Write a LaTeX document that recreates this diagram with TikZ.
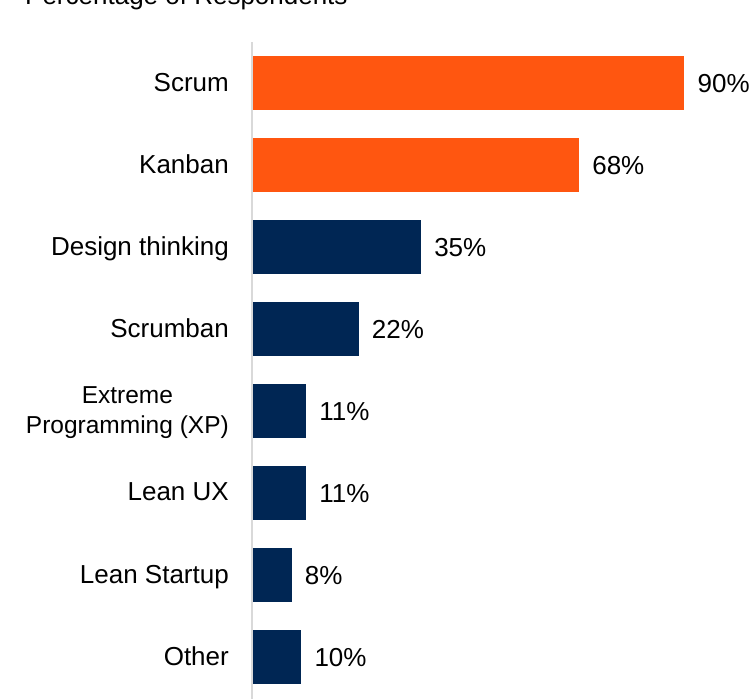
\documentclass[tikz,border=0pt]{standalone}
\usepackage{fontspec}
\setmainfont{Liberation Sans}
\usepackage{xcolor}
\usetikzlibrary{positioning}

\definecolor{barorange}{HTML}{FF5610}
\definecolor{barnavy}{HTML}{002654}
\definecolor{axisgray}{HTML}{D9D9D9}

\begin{document}
\begin{tikzpicture}[x=1pt,y=-1pt,font=\fontsize{26}{30}\selectfont,node distance=13pt]
    \tikzstyle{bar}=[rectangle,inner sep=0pt,minimum height=54pt,anchor=west]
    \tikzstyle{category}=[anchor=east,align=center,inner sep=0pt,text depth=0pt]
    \tikzstyle{value}=[inner sep=0pt,text depth=0pt]

    \useasboundingbox (0,0) rectangle (755,699);
    \clip (0,0) rectangle (755,699);

    \node[anchor=base west,inner sep=0pt] (title) at (25,4) {Percentage of Respondents};

    \coordinate (axtop) at (252,42);
    \coordinate (axbot) at (252,699);
    \draw[line width=1.5pt,axisgray] (axtop) -- (axbot);

    \foreach \name/\pct/\col/\sz [count=\i] in {Scrum/90/barorange/26,Kanban/68/barorange/26,
        Design thinking/35/barnavy/26,Scrumban/22/barnavy/26,
        {Extreme\\Programming (XP)}/11/barnavy/24.5,
        Lean UX/11/barnavy/26,Lean Startup/8/barnavy/26,Other/10/barnavy/26} {
        \node[bar,fill=\col,minimum width=4.79*\pct pt] (bar\i) at (253,{83+82*(\i-1)}) {};
        \node[value,right=of bar\i] (val\i) {\pct\%};
        \node[category,font=\fontsize{\sz}{30}\selectfont] (cat\i) at (229,{82+82*(\i-1)}) {\name};
    }
\end{tikzpicture}
\end{document}
